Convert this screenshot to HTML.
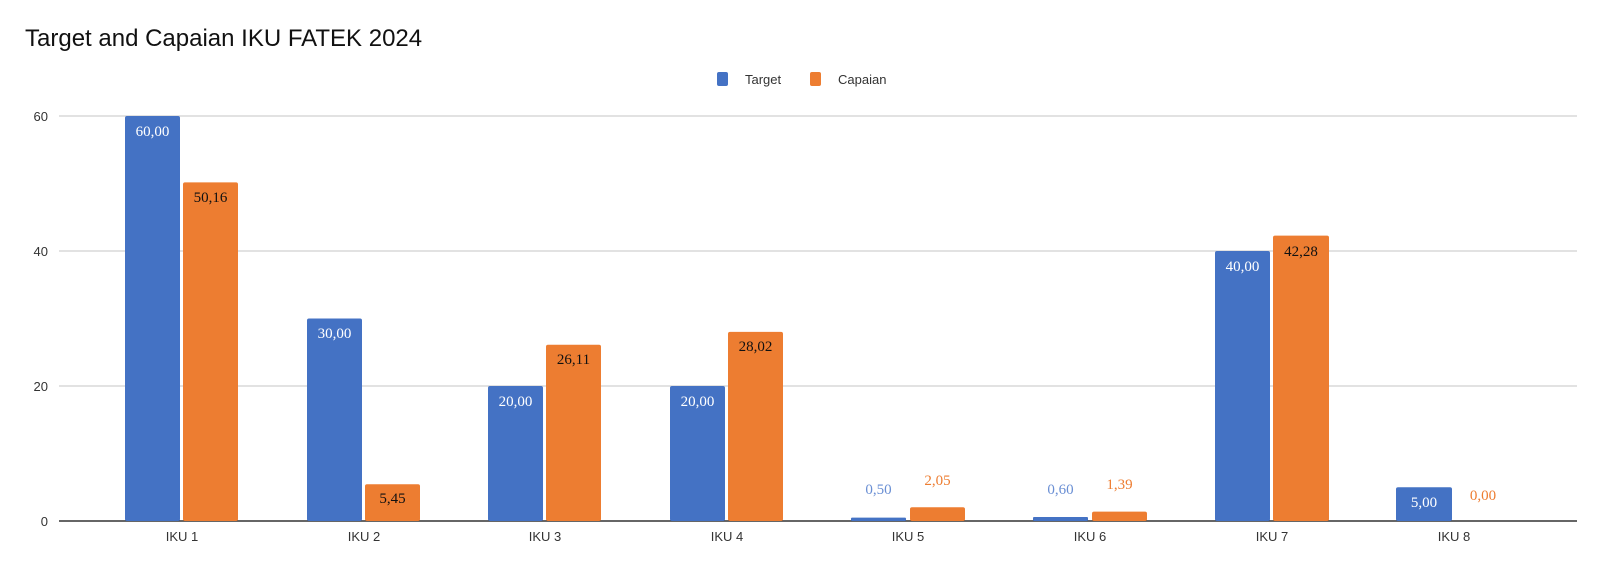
<!DOCTYPE html>
<html><head><meta charset="utf-8"><style>
html,body{margin:0;padding:0;background:#fff;}
svg{display:block;}
</style></head><body>
<svg width="1600" height="562" xmlns="http://www.w3.org/2000/svg">
<text x="25" y="46" font-family="Liberation Sans, sans-serif" font-size="24" fill="#111">Target and Capaian IKU FATEK 2024</text>
<rect x="717" y="72" width="11" height="14" rx="2" fill="#4472c4"/>
<text x="745" y="84" font-family="Liberation Sans, sans-serif" font-size="13" fill="#333">Target</text>
<rect x="810" y="72" width="11" height="14" rx="2" fill="#ed7d31"/>
<text x="838" y="84" font-family="Liberation Sans, sans-serif" font-size="13" fill="#333">Capaian</text>
<g stroke="#d9d9d9" stroke-width="1.5">
<line x1="59" y1="116" x2="1577" y2="116"/><line x1="59" y1="251" x2="1577" y2="251"/><line x1="59" y1="386" x2="1577" y2="386"/>
</g>
<g font-family="Liberation Sans, sans-serif" font-size="13" fill="#333" text-anchor="end">
<text x="48" y="121">60</text><text x="48" y="256">40</text><text x="48" y="391">20</text><text x="48" y="526">0</text>
</g>
<line x1="59" y1="521" x2="1577" y2="521" stroke="#333" stroke-width="1.5"/>
<g font-family="Liberation Sans, sans-serif" font-size="13" fill="#333" text-anchor="middle">
<text x="182" y="541">IKU 1</text><text x="364" y="541">IKU 2</text><text x="545" y="541">IKU 3</text><text x="727" y="541">IKU  4</text><text x="908" y="541">IKU 5</text><text x="1090" y="541">IKU 6</text><text x="1272" y="541">IKU 7</text><text x="1454" y="541">IKU 8</text>
</g>
<g font-family="Liberation Serif, serif" font-size="15" text-anchor="middle">
<rect x="125" y="116" width="55" height="405" rx="2" fill="#4472c4"/><text x="152.5" y="136" fill="#fff">60,00</text>
<rect x="183" y="182.4" width="55" height="338.6" rx="2" fill="#ed7d31"/><text x="210.5" y="202" fill="#111">50,16</text>
<rect x="307" y="318.5" width="55" height="202.5" rx="2" fill="#4472c4"/><text x="334.5" y="338" fill="#fff">30,00</text>
<rect x="365" y="484.2" width="55" height="36.8" rx="2" fill="#ed7d31"/><text x="392.5" y="503" fill="#111">5,45</text>
<rect x="488" y="386" width="55" height="135" rx="2" fill="#4472c4"/><text x="515.5" y="406" fill="#fff">20,00</text>
<rect x="546" y="344.8" width="55" height="176.2" rx="2" fill="#ed7d31"/><text x="573.5" y="364" fill="#111">26,11</text>
<rect x="670" y="386" width="55" height="135" rx="2" fill="#4472c4"/><text x="697.5" y="406" fill="#fff">20,00</text>
<rect x="728" y="331.9" width="55" height="189.1" rx="2" fill="#ed7d31"/><text x="755.5" y="351" fill="#111">28,02</text>
<rect x="851" y="517.6" width="55" height="3.4" rx="1" fill="#4472c4"/><text x="878.5" y="494" fill="#6a8fd4">0,50</text>
<rect x="910" y="507.2" width="55" height="13.8" rx="2" fill="#ed7d31"/><text x="937.5" y="485" fill="#ed7d31">2,05</text>
<rect x="1033" y="517" width="55" height="4" rx="1" fill="#4472c4"/><text x="1060.5" y="494" fill="#6a8fd4">0,60</text>
<rect x="1092" y="511.6" width="55" height="9.4" rx="2" fill="#ed7d31"/><text x="1119.5" y="489" fill="#ed7d31">1,39</text>
<rect x="1215" y="251" width="55" height="270" rx="2" fill="#4472c4"/><text x="1242.5" y="271" fill="#fff">40,00</text>
<rect x="1273" y="235.6" width="56" height="285.4" rx="2" fill="#ed7d31"/><text x="1301" y="256" fill="#111">42,28</text>
<rect x="1396" y="487.3" width="56" height="33.7" rx="2" fill="#4472c4"/><text x="1424" y="507" fill="#fff">5,00</text>
<text x="1483" y="500" fill="#ed7d31">0,00</text>
</g>
</svg>
</body></html>
